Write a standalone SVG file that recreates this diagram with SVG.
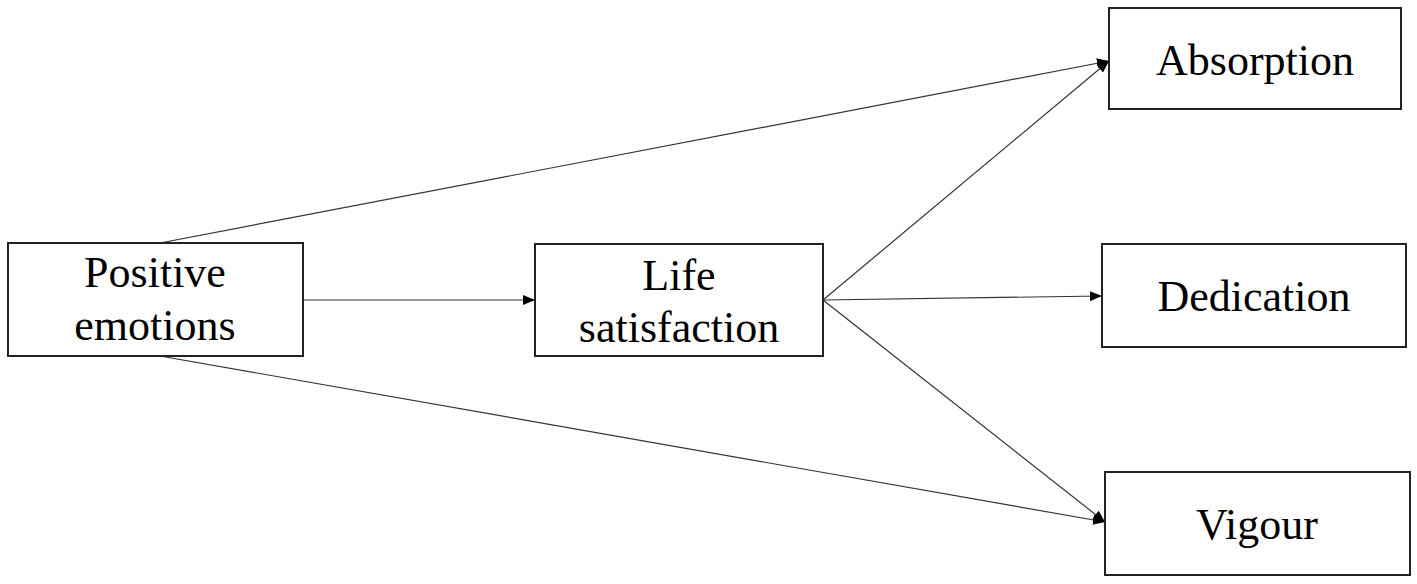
<svg xmlns="http://www.w3.org/2000/svg" width="1417" height="584" viewBox="0 0 1417 584">
<defs>
<marker id="ah" viewBox="0 0 12 10" refX="12" refY="5" markerWidth="12" markerHeight="10" markerUnits="userSpaceOnUse" orient="auto">
<path d="M0,0 L12,5 L0,10 Z" fill="#000"/>
</marker>
</defs>
<style>
.box{fill:#fff;stroke:#222;stroke-width:2}
.lbl{font-family:"Liberation Serif","Times New Roman",serif;font-size:44px;fill:#000;text-anchor:middle}
.edge{stroke:#333;stroke-width:1.2;fill:none;marker-end:url(#ah)}
</style>
<rect width="1417" height="584" fill="#fff"/>
<g id="connectors">
<line class="edge" x1="160" y1="243" x2="1109" y2="61"/>
<line class="edge" x1="160" y1="356" x2="1105" y2="522"/>
<line class="edge" x1="303" y1="300" x2="535" y2="300"/>
<line class="edge" x1="823" y1="300" x2="1109" y2="61"/>
<line class="edge" x1="823" y1="300" x2="1102" y2="296"/>
<line class="edge" x1="823" y1="300" x2="1105" y2="522"/>
</g>
<g id="positive-emotions">
<rect class="box" x="8" y="243" width="295" height="113"/>
<text class="lbl" x="155" y="287">Positive</text>
<text class="lbl" x="155" y="340">emotions</text>
</g>
<g id="life-satisfaction">
<rect class="box" x="535" y="244" width="288" height="112"/>
<text class="lbl" x="679" y="290">Life</text>
<text class="lbl" x="679" y="342">satisfaction</text>
</g>
<g id="absorption">
<rect class="box" x="1109" y="8" width="292" height="101"/>
<text class="lbl" x="1255" y="75">Absorption</text>
</g>
<g id="dedication">
<rect class="box" x="1102" y="244" width="304" height="103"/>
<text class="lbl" x="1254" y="311">Dedication</text>
</g>
<g id="vigour">
<rect class="box" x="1105" y="472" width="305" height="103"/>
<text class="lbl" x="1257" y="539">Vigour</text>
</g>
</svg>
